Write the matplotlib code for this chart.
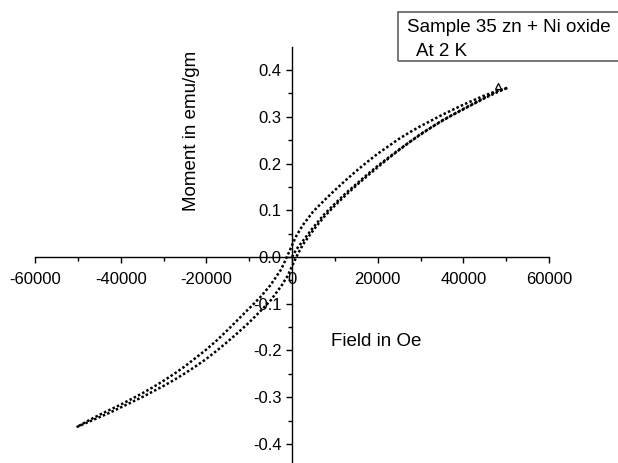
import numpy as np
import matplotlib.pyplot as plt
from matplotlib.ticker import FixedLocator, FormatStrFormatter
from matplotlib.patches import Rectangle

plt.rcParams['font.family'] = ['Liberation Sans', 'DejaVu Sans']

# descending branch (+50 kOe -> -50 kOe)
h_down = [50270, 47500, 45000, 42500, 40000, 37500, 35000, 32500, 30000, 27500, 25000,
          22500, 20000, 17500, 15000, 12500, 10000, 7500, 5000, 2500, 1000, 0, -1000,
          -2500, -5000, -7500, -10000, -12500, -15000, -17500, -20000, -22500, -25000,
          -27500, -30000, -32500, -35000, -37500, -40000, -42500, -45000, -47500, -50270]
m_down = [0.362, 0.354, 0.346, 0.336, 0.326, 0.315, 0.304, 0.292, 0.280, 0.267, 0.253,
          0.237, 0.221, 0.203, 0.184, 0.164, 0.143, 0.121, 0.098, 0.068, 0.045, 0.025, 0.004,
          -0.026, -0.060, -0.087, -0.110, -0.133, -0.156, -0.178, -0.198, -0.216, -0.234,
          -0.250, -0.265, -0.279, -0.292, -0.304, -0.316, -0.327, -0.338, -0.350, -0.364]

# ascending branch (-50 kOe -> +50 kOe)
h_up = [-50270, -47500, -45000, -42500, -40000, -37500, -35000, -32500, -30000, -27500,
        -25000, -22500, -20000, -17500, -15000, -12500, -10000, -7500, -5000, -2500, -1000,
        0, 1000, 2500, 5000, 7500, 10000, 12500, 15000, 17500, 20000, 22500, 25000, 27500,
        30000, 32500, 35000, 37500, 40000, 42500, 45000, 47500, 50270]
m_up = [-0.364, -0.353, -0.343, -0.333, -0.322, -0.311, -0.300, -0.288, -0.276, -0.263,
        -0.249, -0.234, -0.218, -0.200, -0.181, -0.161, -0.140, -0.117, -0.093, -0.062, -0.040,
        -0.020, 0.000, 0.026, 0.058, 0.086, 0.110, 0.132, 0.153, 0.173, 0.192, 0.211, 0.229, 0.246,
        0.262, 0.277, 0.291, 0.304, 0.316, 0.328, 0.340, 0.351, 0.362]

# initial curve (0 -> +48 kOe)
h_init = [0, 1000, 2500, 5000, 7500, 10000, 12500, 15000, 17500, 20000, 25000, 30000,
          35000, 40000, 45000, 48200]
m_init = [0.000, 0.016, 0.034, 0.064, 0.091, 0.114, 0.136, 0.156, 0.176, 0.195, 0.230, 0.263,
          0.292, 0.317, 0.341, 0.357]
end_h = [48200]
end_m = [0.367]

x_major = [-60000, -40000, -20000, 0, 20000, 40000, 60000]
x_minor = [-50000, -30000, -10000, 10000, 30000, 50000]
y_major = [-0.4, -0.3, -0.2, -0.1, 0.0, 0.1, 0.2, 0.3, 0.4]
y_minor = [-0.35, -0.25, -0.15, -0.05, 0.05, 0.15, 0.25, 0.35]

fig = plt.figure(figsize=(6.18, 4.63), dpi=100)
ax = fig.add_axes([35/618, -4.25/463, 514/618, 420.5/463])

dots = dict(color='black', lw=1.8, linestyle=(0, (1, 0.9)), dash_capstyle='butt', zorder=3)
ax.plot(h_down, m_down, **dots)
ax.plot(h_up, m_up, **dots)
ax.plot(h_init, m_init, **dots)
ax.plot(end_h, end_m, ls='none', marker='^', mfc='white', mec='black', ms=5, mew=0.9, zorder=3)

ax.set_xlim(-60000, 60000)
ax.set_ylim(-0.45, 0.45)

for s in ['top', 'right']:
    ax.spines[s].set_visible(False)
ax.spines['left'].set_position(('data', 0))
ax.spines['bottom'].set_position(('data', 0))
ax.spines['left'].set_linewidth(1.0)
ax.spines['bottom'].set_linewidth(1.0)

ax.xaxis.set_major_locator(FixedLocator(x_major))
ax.xaxis.set_minor_locator(FixedLocator(x_minor))
ax.yaxis.set_major_locator(FixedLocator(y_major))
ax.yaxis.set_minor_locator(FixedLocator(y_minor))
ax.xaxis.set_major_formatter(FormatStrFormatter('%d'))
ax.yaxis.set_major_formatter(FormatStrFormatter('%.1f'))
ax.tick_params(which='major', direction='out', length=4.5, width=1.0, labelsize=12)
ax.tick_params(which='minor', direction='out', length=2.8, width=1.0)
ax.tick_params(axis='x', pad=6)
ax.tick_params(axis='y', pad=3)

ax.text(-23400, 0.27, 'Moment in emu/gm', rotation=90, ha='center', va='center', fontsize=13.5)
ax.text(19600, -0.18, 'Field in Oe', ha='center', va='center', fontsize=13.5)

fig.patches.append(Rectangle((398/618, (463-61)/463), 0.5, 49/463, transform=fig.transFigure,
                             fill=False, lw=1.2, edgecolor='#606060'))
fig.text(407/618, (463-31.5)/463, 'Sample 35 zn + Ni oxide', fontsize=13.5, va='baseline')
fig.text(416/618, (463-55.5)/463, 'At 2 K', fontsize=13.5, va='baseline')

fig.savefig('out.png', dpi=100)
